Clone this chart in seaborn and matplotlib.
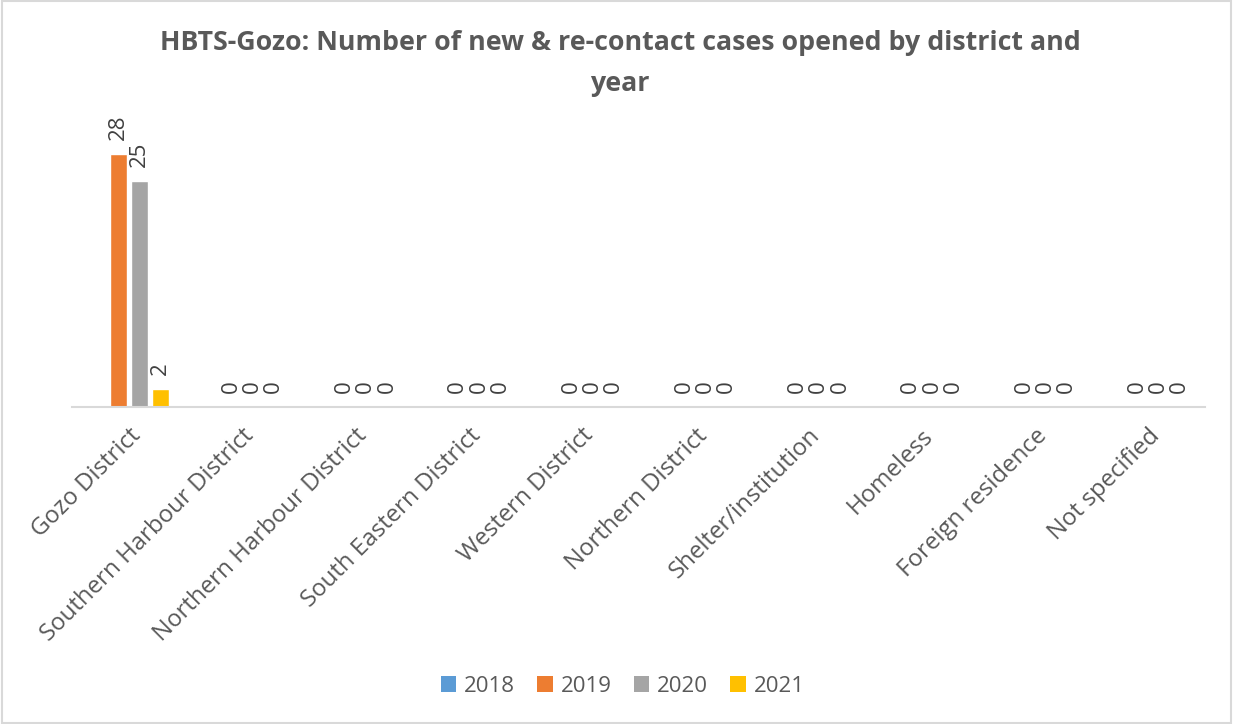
import numpy as np
import pandas as pd
import matplotlib
matplotlib.use("Agg")
import matplotlib.pyplot as plt
import seaborn as sns
from matplotlib.patches import Patch, Rectangle

districts = ["Gozo District", "Southern Harbour District", "Northern Harbour District",
             "South Eastern District", "Western District", "Northern District",
             "Shelter/institution", "Homeless", "Foreign residence", "Not specified"]
years = ["2018", "2019", "2020", "2021"]
v2018 = [np.nan] * 10
v2019 = [28, 0, 0, 0, 0, 0, 0, 0, 0, 0]
v2020 = [25, 0, 0, 0, 0, 0, 0, 0, 0, 0]
v2021 = [2, 0, 0, 0, 0, 0, 0, 0, 0, 0]
colors = ["#5B9BD5", "#ED7D31", "#A5A5A5", "#FFC000"]
title = "HBTS-Gozo: Number of new & re-contact cases opened by district and\nyear"

rows = []
for y, vals in zip(years, [v2018, v2019, v2020, v2021]):
    for d, v in zip(districts, vals):
        rows.append({"district": d, "year": y, "value": v})
df = pd.DataFrame(rows)

sns.set_theme(style="white")
plt.rcParams['font.family'] = ['Open Sans', 'DejaVu Sans']

fig = plt.figure(figsize=(12.33, 7.24), dpi=100)
ax = fig.add_axes([0.0584, 0.4378, 0.9186, 0.374])

sns.barplot(data=df, x="district", y="value", hue="year", hue_order=years,
            order=districts, palette=dict(zip(years, colors)), width=0.75,
            saturation=1, ax=ax, legend=False, errorbar=None)

for cont in ax.containers:
    labels = []
    for b in cont:
        h = b.get_height()
        labels.append("" if (h is None or np.isnan(h)) else f"{h:g}")
    ax.bar_label(cont, labels=labels, rotation=90, padding=10, fontsize=16, color="#404040")

# shrink bars to leave small gaps
for p in ax.patches:
    w = p.get_width()
    p.set_x(p.get_x() + w * 0.1)
    p.set_width(w * 0.8)

ax.set_ylim(0, 30)
ax.set_xlim(-0.5, len(districts) - 0.5)
ax.set_xlabel("")
ax.set_ylabel("")
ax.set_yticks([])
for s in ["top", "right", "left"]:
    ax.spines[s].set_visible(False)
ax.spines["bottom"].set_color("#D9D9D9")
ax.spines["bottom"].set_linewidth(1.5)
ax.tick_params(axis="x", length=0, pad=12)
ax.set_xticks(range(len(districts)))
ax.set_xticklabels(districts, rotation=45, ha="right", rotation_mode="anchor",
                   fontsize=17.3, color="#595959")

fig.text(0.503, 0.958, title, ha="center", va="top", fontsize=19.3, fontweight="bold",
         color="#595959", linespacing=1.75)

handles = [Patch(facecolor=c, edgecolor="none") for c in colors]
fig.legend(handles, years, loc="center", bbox_to_anchor=(0.505, 0.052), ncol=4,
           frameon=False, fontsize=16, handlelength=0.7, handleheight=0.7,
           columnspacing=1.0, handletextpad=0.35, labelcolor="#595959")

fig.patches.append(Rectangle((0.002, 0.002), 0.996, 0.996, transform=fig.transFigure,
                             fill=False, edgecolor="#D9D9D9", linewidth=1.5))

fig.savefig("out.png", dpi=100, facecolor="white")
